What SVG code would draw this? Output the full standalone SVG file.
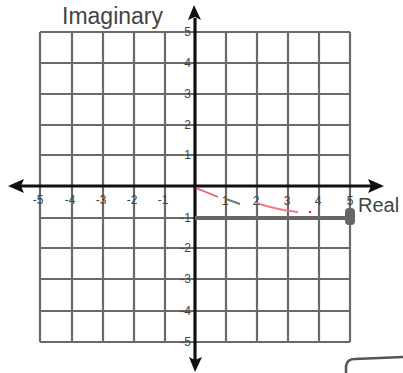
<svg xmlns="http://www.w3.org/2000/svg" width="403" height="373" viewBox="0 0 403 373">
<defs>
<style>
.grid line{stroke:#6a6a6a;stroke-width:2.2}
.axis{stroke:#111;stroke-width:3.2}
.tick{font-family:"Liberation Sans",Arial,sans-serif;font-size:12px;fill:#444}
.big{font-family:"Liberation Sans",Arial,sans-serif;font-size:23px;fill:#444}
</style>
</defs>
<rect width="403" height="373" fill="#fff"/>
<g id="grid" class="grid">
<line x1="40" y1="32" x2="350" y2="32"/>
<line x1="40" y1="63" x2="350" y2="63"/>
<line x1="40" y1="94" x2="350" y2="94"/>
<line x1="40" y1="125" x2="350" y2="125"/>
<line x1="40" y1="155" x2="350" y2="155"/>
<line x1="40" y1="218" x2="350" y2="218"/>
<line x1="40" y1="248" x2="350" y2="248"/>
<line x1="40" y1="279" x2="350" y2="279"/>
<line x1="40" y1="311" x2="350" y2="311"/>
<line x1="40" y1="342" x2="350" y2="342"/>
<line x1="40" y1="32" x2="40" y2="342"/>
<line x1="72" y1="32" x2="72" y2="342"/>
<line x1="103" y1="32" x2="103" y2="342"/>
<line x1="134" y1="32" x2="134" y2="342"/>
<line x1="165" y1="32" x2="165" y2="342"/>
<line x1="226" y1="32" x2="226" y2="342"/>
<line x1="257" y1="32" x2="257" y2="342"/>
<line x1="288" y1="32" x2="288" y2="342"/>
<line x1="319" y1="32" x2="319" y2="342"/>
<line x1="350" y1="32" x2="350" y2="342"/>
</g>
<g id="connectors">
<line class="axis" x1="20" y1="186" x2="372" y2="186"/>
<polygon points="8,186 24,179 21,186 24,193" fill="#111"/>
<polygon points="384,186 368,179 371,186 368,193" fill="#111"/>
<line class="axis" x1="195" y1="18" x2="195" y2="360"/>
<polygon points="194,5 188,20 195,17 201,20" fill="#111"/>
<polygon points="195,372 189,357 195,360 202,357" fill="#111"/>
<line x1="195" y1="218" x2="350" y2="218" stroke="#666" stroke-width="4"/>
<line x1="196" y1="188" x2="218" y2="197" stroke="#e85a70" stroke-width="1.8"/>
<line x1="226" y1="199" x2="240" y2="204" stroke="#777" stroke-width="2.2"/>
<path d="M256,203 Q278,210 298,212" fill="none" stroke="#ee7a8c" stroke-width="2"/>
<circle cx="310" cy="212" r="1.3" fill="#e03050"/>
</g>
<g id="point">
<rect x="345" y="208" width="10" height="17" rx="4" fill="#666"/>
</g>
<g id="labels">
<text class="big" x="62" y="24">Imaginary</text>
<text class="big" x="358" y="212" style="font-size:20px">Real</text>
<g class="tick" text-anchor="end">
<text x="191" y="36">5</text>
<text x="191" y="67">4</text>
<text x="191" y="98">3</text>
<text x="191" y="129">2</text>
<text x="191" y="159">1</text>
<text x="191" y="222">-1</text>
<text x="191" y="252">-2</text>
<text x="191" y="283">-3</text>
<text x="191" y="315">-4</text>
<text x="191" y="346">-5</text>
</g>
<g class="tick" text-anchor="middle">
<text x="38" y="204">-5</text>
<text x="70" y="204">-4</text>
<text x="101" y="204">-3</text>
<text x="132" y="204">-2</text>
<text x="163" y="204">-1</text>
<text x="225" y="205">1</text>
<text x="256" y="205">2</text>
<text x="287" y="205">3</text>
<text x="318" y="205">4</text>
<text x="350" y="205">5</text>
</g>
</g>
<g id="answer-box">
<path d="M346,373 L346,366 Q347,359 355,359 L403,357" fill="none" stroke="#555" stroke-width="2.5"/>
</g>
</svg>
